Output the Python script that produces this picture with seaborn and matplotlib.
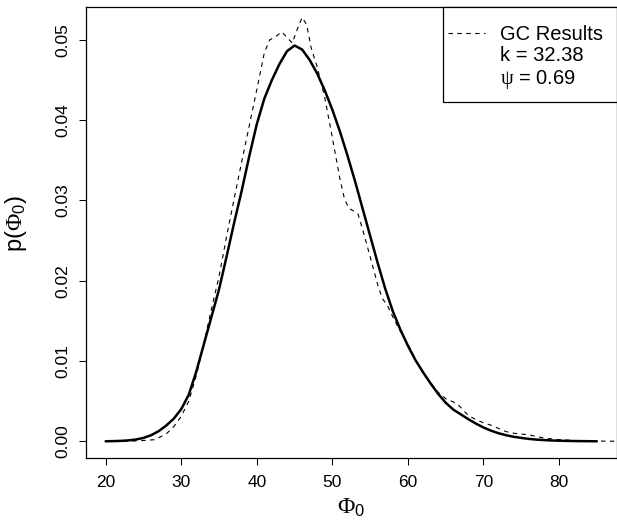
import numpy as np
import pandas as pd
import matplotlib
matplotlib.use("Agg")
import matplotlib.pyplot as plt
import seaborn as sns
from matplotlib.lines import Line2D
from matplotlib.patches import Rectangle

# fitted density (solid line)
phi_fit = [20, 21, 22, 23, 24, 25, 26, 27, 28, 29, 30, 31, 32, 33, 34, 35, 36, 37, 38, 39,
           40, 41, 42, 43, 44, 45, 46, 47, 48, 49, 50, 51, 52, 53, 54, 55, 56, 57, 58, 59,
           60, 61, 62, 63, 64, 65, 66, 67, 68, 69, 70, 71, 72, 73, 74, 75, 76, 77, 78, 79,
           80, 81, 82, 83, 84, 85]
p_fit = [0.00000, 0.00002, 0.00005, 0.00011, 0.00022, 0.00042, 0.00075, 0.00125, 0.00195, 0.00280,
         0.00400, 0.00580, 0.00870, 0.01210, 0.01550, 0.01890, 0.02300, 0.02720, 0.03120, 0.03550,
         0.03950, 0.04270, 0.04500, 0.04700, 0.04860, 0.04930, 0.04880, 0.04750, 0.04580, 0.04370,
         0.04130, 0.03860, 0.03560, 0.03240, 0.02900, 0.02560, 0.02220, 0.01900, 0.01620, 0.01390,
         0.01190, 0.01010, 0.00860, 0.00720, 0.00590, 0.00480, 0.00395, 0.00335, 0.00275, 0.00220,
         0.00172, 0.00132, 0.00100, 0.00075, 0.00056, 0.00042, 0.00030, 0.00021, 0.00015, 0.00010,
         0.00007, 0.00005, 0.00003, 0.00002, 0.00001, 0.00000]

# GC results (dashed line)
phi_gc = [20, 22, 23.5, 25, 26.5, 28, 29, 30, 31, 32, 33, 34, 35, 36, 37, 38, 39, 40, 41, 41.7,
          42.5, 43.3, 44, 44.7, 45.3, 46.0, 46.6, 47.2, 48, 49, 50, 51, 51.6, 52.2, 52.8, 53.4, 54,
          55, 56, 56.6, 57.3, 58, 59, 60, 61, 62, 63, 64, 65, 66, 66.6, 67.3, 68, 69, 70, 71, 72,
          73, 74, 75, 76, 77, 78, 79, 80, 82, 84, 86, 88]
p_gc = [0.0, 0.0, 0.00002, 0.0001, 0.0002, 0.0009, 0.0018, 0.0031, 0.0050, 0.0082, 0.0122,
        0.0165, 0.0205, 0.0255, 0.0302, 0.0348, 0.0393, 0.0438, 0.0484, 0.0500, 0.0504, 0.0510,
        0.0503, 0.0496, 0.0512, 0.0528, 0.0519, 0.0490, 0.0466, 0.0428, 0.0378, 0.0327, 0.0302,
        0.0290, 0.0287, 0.0283, 0.0264, 0.0230, 0.0195, 0.0178, 0.0169, 0.0155, 0.0137, 0.0121,
        0.0102, 0.0086, 0.0073, 0.0061, 0.0053, 0.0049, 0.0046, 0.0039, 0.0032, 0.0027, 0.0023,
        0.0020, 0.0016, 0.0012, 0.0010, 0.0009, 0.0008, 0.0006, 0.0004, 0.0003, 0.0002, 0.0001,
        0.00005, 0.00002, 0.0]

x_ticks = [20, 30, 40, 50, 60, 70, 80]
y_ticks = [0.00, 0.01, 0.02, 0.03, 0.04, 0.05]
y_ticklabels = ["0.00", "0.01", "0.02", "0.03", "0.04", "0.05"]
legend_labels = ["GC Results", "k = 32.38", r"$\psi$ = 0.69"]

sns.set_theme(style="ticks")
plt.rcParams['font.family'] = ['Liberation Sans', 'DejaVu Sans']
plt.rcParams['text.color'] = 'black'
plt.rcParams['mathtext.fontset'] = 'custom'
plt.rcParams['mathtext.rm'] = 'Liberation Serif'
plt.rcParams['mathtext.it'] = 'Liberation Serif'
plt.rcParams['mathtext.sf'] = 'Liberation Sans'
plt.rcParams['mathtext.default'] = 'rm'

TICK_SIZE = 12.5
LABEL_SIZE = 17
LEGEND_SIZE = 14.5

fig = plt.figure(figsize=(6.17, 5.20), dpi=100)
ax = fig.add_axes([86 / 617, 61.7 / 520, 530.5 / 617, 451.3 / 520])

fit_df = pd.DataFrame({"phi": phi_fit, "p": p_fit})
gc_df = pd.DataFrame({"phi": phi_gc, "p": p_gc})

sns.lineplot(data=gc_df, x="phi", y="p", ax=ax, color="black", linewidth=0.8,
             estimator=None, sort=False)
ax.lines[-1].set_dashes((4, 4))
sns.lineplot(data=fit_df, x="phi", y="p", ax=ax, color="black", linewidth=1.8,
             estimator=None, sort=False)

ax.set_xlim(17.4, 87.6)
ax.set_ylim(-0.00212, 0.0541)
ax.set_xticks(x_ticks)
ax.set_xticklabels([str(t) for t in x_ticks])
ax.set_yticks(y_ticks)
ax.set_yticklabels(y_ticklabels)
ax.tick_params(axis='both', direction='out', length=5, width=0.75, color='black',
               labelsize=TICK_SIZE, labelcolor='black')
ax.tick_params(axis='x', pad=7)
ax.tick_params(axis='y', pad=6, labelrotation=90)
for lbl in ax.get_yticklabels():
    lbl.set_va('center')

ax.set_xlabel(r'$\Phi_\mathsf{0}$', fontsize=LABEL_SIZE, labelpad=5, color='black')
ax.set_ylabel(r'p($\Phi_\mathsf{0}$)', fontsize=LABEL_SIZE, color='black')
ax.yaxis.set_label_coords(-0.107, 0.52)

for spine in ax.spines.values():
    spine.set_visible(True)
    spine.set_color('black')
    spine.set_linewidth(0.9)

# legend box (R style, flush with the top right corner)
ax.add_patch(Rectangle((0.673, 0.790), 0.327, 0.21, transform=ax.transAxes,
                       facecolor='white', edgecolor='black', linewidth=0.9,
                       zorder=4, clip_on=False))
handles = [Line2D([], [], color='black', linewidth=0.8, dashes=(4, 4)),
           Line2D([], [], color='none'),
           Line2D([], [], color='none')]
leg = ax.legend(handles, legend_labels, loc='upper left', bbox_to_anchor=(0.682, 0.960),
                borderaxespad=0, borderpad=0, fontsize=LEGEND_SIZE, handlelength=1.85,
                handletextpad=0.75, labelspacing=0.12, frameon=False, labelcolor='black')
leg.set_zorder(5)

fig.savefig("out.png", dpi=100)
